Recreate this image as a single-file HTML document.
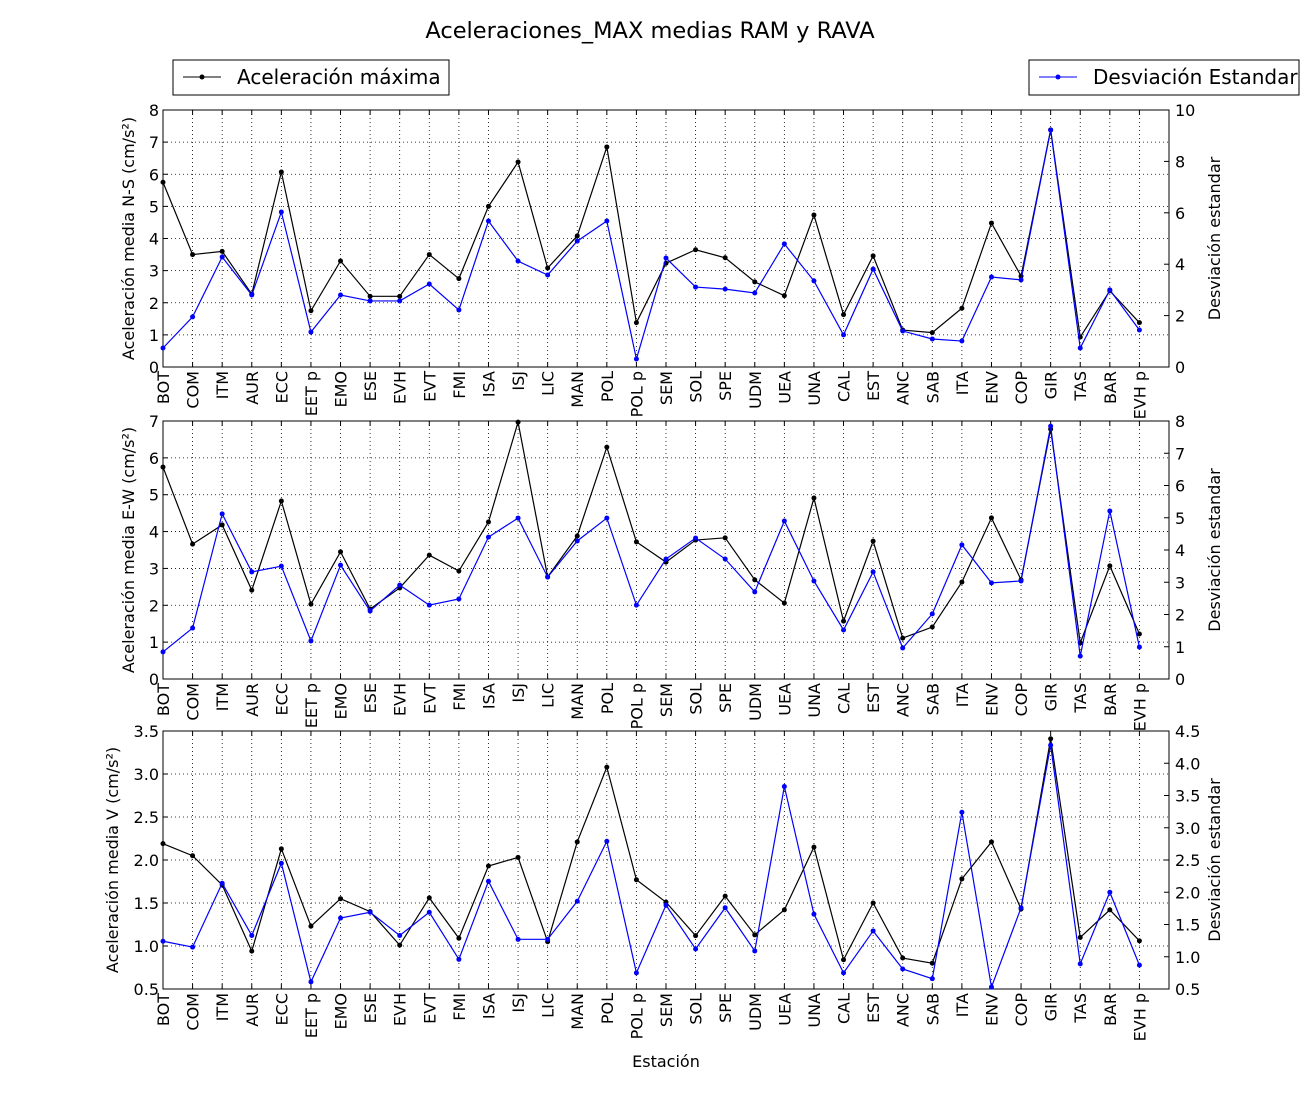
<!DOCTYPE html>
<html><head><meta charset="utf-8"><style>
body{margin:0;background:#fff;}
svg{font-family:"DejaVu Sans","Liberation Sans",sans-serif;}
</style></head><body>
<svg id="c" width="1300" height="1100" xmlns="http://www.w3.org/2000/svg">
<rect width="1300" height="1100" fill="#fff"/>
<text x="650" y="38" font-size="22.5" text-anchor="middle">Aceleraciones_MAX medias RAM y RAVA</text>
<g>
<rect x="173" y="60" width="276" height="35" fill="#fff" stroke="#000"/>
<line x1="183" y1="77" x2="221" y2="77" stroke="#000"/><circle cx="202" cy="77" r="2.5"/>
<text x="237" y="84" font-size="20">Aceleración máxima</text></g>
<g>
<rect x="1029" y="60" width="270" height="35" fill="#fff" stroke="#000"/>
<line x1="1039" y1="77" x2="1077" y2="77" stroke="#00f"/><circle cx="1058" cy="77" r="2.5" fill="#00f"/>
<text x="1093" y="84" font-size="20">Desviación Estandar</text></g>
<text x="666" y="1067" font-size="16" text-anchor="middle">Estación</text>
</svg>
<script>
const categories=["BOT","COM","ITM","AUR","ECC","EET p","EMO","ESE","EVH","EVT","FMI","ISA","ISJ","LIC","MAN","POL","POL p","SEM","SOL","SPE","UDM","UEA","UNA","CAL","EST","ANC","SAB","ITA","ENV","COP","GIR","TAS","BAR","EVH p"];
const nsMax=[5.75,3.5,3.6,2.27,6.07,1.75,3.3,2.2,2.2,3.5,2.75,5.0,6.38,3.08,4.08,6.85,1.38,3.23,3.65,3.4,2.65,2.22,4.73,1.63,3.46,1.15,1.07,1.83,4.48,2.83,7.38,0.93,2.37,1.38];
const nsStd=[0.74,1.95,4.28,2.8,6.03,1.36,2.8,2.57,2.57,3.23,2.22,5.68,4.12,3.58,4.9,5.68,0.31,4.24,3.11,3.03,2.88,4.79,3.35,1.25,3.81,1.4,1.09,1.01,3.5,3.39,9.22,0.74,3.0,1.44];
const ewMax=[5.75,3.66,4.18,2.41,4.83,2.03,3.45,1.9,2.47,3.36,2.93,4.26,6.97,2.77,3.88,6.29,3.72,3.17,3.77,3.83,2.69,2.06,4.91,1.57,3.74,1.11,1.41,2.63,4.37,2.69,6.78,0.98,3.07,1.22];
const ewStd=[0.84,1.58,5.12,3.32,3.5,1.18,3.53,2.11,2.91,2.29,2.48,4.4,4.99,3.16,4.28,4.99,2.29,3.72,4.37,3.72,2.7,4.9,3.04,1.52,3.32,0.96,2.02,4.16,2.98,3.04,7.84,0.71,5.21,0.99];
const vMax=[2.19,2.05,1.71,0.94,2.13,1.23,1.55,1.40,1.01,1.56,1.09,1.93,2.03,1.05,2.21,3.08,1.77,1.51,1.12,1.58,1.13,1.42,2.15,0.84,1.50,0.86,0.80,1.78,2.21,1.43,3.41,1.10,1.42,1.06];
const vStd=[1.24,1.15,2.14,1.33,2.45,0.61,1.60,1.69,1.33,1.69,0.96,2.17,1.27,1.27,1.86,2.79,0.75,1.80,1.12,1.76,1.09,3.64,1.66,0.75,1.40,0.81,0.66,3.24,0.53,1.76,4.28,0.89,2.0,0.87];
const nsLeftTicks=[0,1,2,3,4,5,6,7,8], nsRightTicks=[0,2,4,6,8,10];
const ewLeftTicks=[0,1,2,3,4,5,6,7], ewRightTicks=[0,1,2,3,4,5,6,7,8];
const vLeftTicks=[0.5,1.0,1.5,2.0,2.5,3.0,3.5], vRightTicks=[0.5,1.0,1.5,2.0,2.5,3.0,3.5,4.0,4.5];

const svg=document.getElementById('c');const NS='http://www.w3.org/2000/svg';
function el(t,a,p){const e=document.createElementNS(NS,t);for(const k in a)e.setAttribute(k,a[k]);(p||svg).appendChild(e);return e;}
const X0=163,X1=1169;
function xs(i){return X0+(X1-X0)*i/categories.length;}
function panel(name,top,bot,lt,rt,dec,lmax,rmax,leftLabel,labX){
 const g=el('g',{});
 
 
 const lmin=lt[0],lM=lt[lt.length-1],rmin=rt[0],rM=rt[rt.length-1];
 const yl=v=>bot-(v-lmin)/(lM-lmin)*(bot-top);
 const yr=v=>bot-(v-rmin)/(rM-rmin)*(bot-top);
 categories.forEach((c,i)=>{const x=xs(i);
  if(i>0)el('line',{x1:x,x2:x,y1:top,y2:bot,stroke:'#000','stroke-dasharray':'1,3','stroke-width':0.8},g);
  el('line',{x1:x,x2:x,y1:bot,y2:bot-5,stroke:'#000'},g);el('line',{x1:x,x2:x,y1:top,y2:top+5,stroke:'#000'},g);
  const t=el('text',{x:0,y:0,'font-size':16,'text-anchor':'end',transform:`translate(${x+6},${bot+4}) rotate(-90)`},g);t.textContent=c;
  
  
 });
 lt.forEach(v=>{const y=yl(v);
  if(v!==lmin&&v!==lM)el('line',{x1:X0,x2:X1,y1:y,y2:y,stroke:'#000','stroke-dasharray':'1,3','stroke-width':0.8},g);
  el('line',{x1:X0,x2:X0+5,y1:y,y2:y,stroke:'#000'},g);
  const t=el('text',{x:X0-4,y:y+6,'font-size':16,'text-anchor':'end'},g);t.textContent=v.toFixed(dec);
  
  });
 rt.forEach(v=>{const y=yr(v);
  el('line',{x1:X1-5,x2:X1,y1:y,y2:y,stroke:'#000'},g);
  const t=el('text',{x:X1+6,y:y+6,'font-size':16},g);t.textContent=v.toFixed(dec);
  
  });
 el('rect',{x:X0,y:top,width:X1-X0,height:bot-top,fill:'none',stroke:'#000'},g);
 const mid=(top+bot)/2;
 const a=el('text',{'font-size':16,'text-anchor':'middle',transform:`translate(${labX},${mid}) rotate(-90)`},g);a.textContent=leftLabel;
 
 
 const b=el('text',{'font-size':16,'text-anchor':'middle',transform:`translate(1220,${mid}) rotate(-90)`},g);b.textContent='Desviación estandar';
 
 
 const clip=el('clipPath',{id:name+'clip'},g);el('rect',{x:X0-4,y:top-4,width:X1-X0+8,height:bot-top+8},clip);
 [[lmax,yl,'#000','max-line'],[rmax,yr,'#00f','std-line']].forEach(([d,yf,col,nm])=>{
  const s=el('g',{'clip-path':`url(#${name}clip)`},g);
  
  
  el('polyline',{points:d.map((v,i)=>xs(i)+','+yf(v)).join(' '),fill:'none',stroke:col,'stroke-width':1.2},s);
  d.forEach((v,i)=>{const p=el('circle',{cx:xs(i),cy:yf(v),r:2.5,fill:col},s);
   
   });
 });
}
panel('ns',110,367,nsLeftTicks,nsRightTicks,0,nsMax,nsStd,'Aceleración media N-S (cm/s²)',134);
panel('ew',421,679,ewLeftTicks,ewRightTicks,0,ewMax,ewStd,'Aceleración media E-W (cm/s²)',134);
panel('v',731,989,vLeftTicks,vRightTicks,1,vMax,vStd,'Aceleración media V (cm/s²)',118);
</script>
</body></html>
